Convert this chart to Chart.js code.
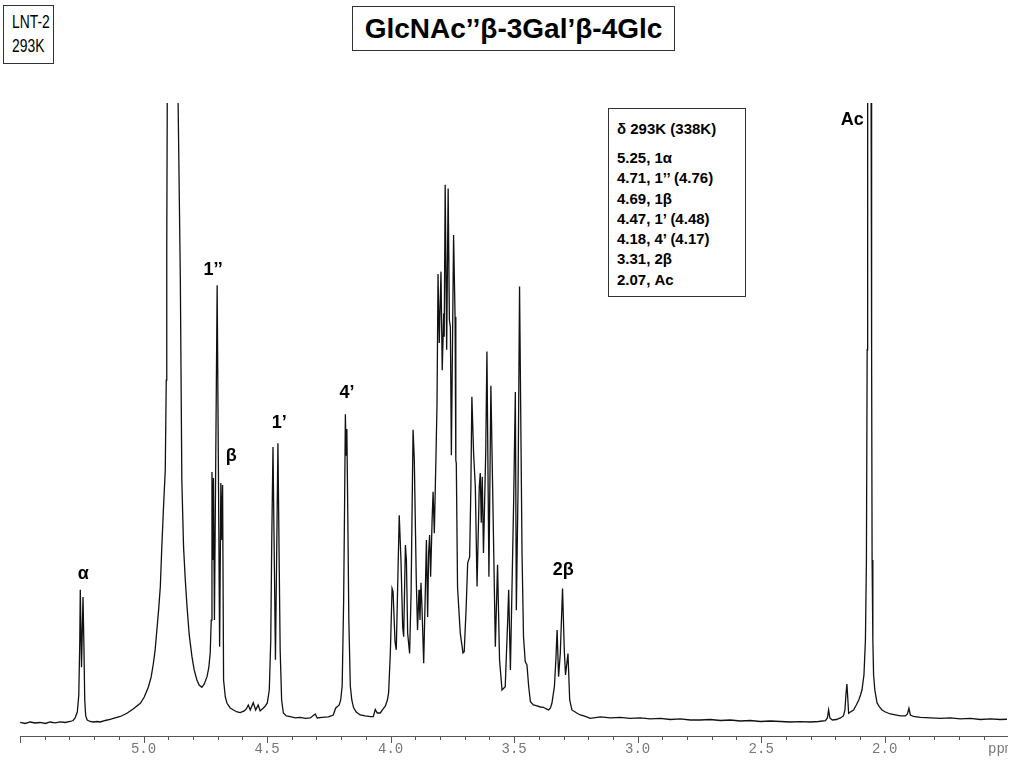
<!DOCTYPE html>
<html><head><meta charset="utf-8">
<script src="https://cdn.jsdelivr.net/npm/chart.js@4.4.0/dist/chart.umd.min.js"></script>
<style>
html,body{margin:0;padding:0;background:#fff;width:1024px;height:768px;overflow:hidden;}
#wrap{position:relative;width:1024px;height:768px;}
canvas{position:absolute;left:0;top:0;}
.box{position:absolute;border:1px solid #333;background:#fff;box-sizing:border-box;font-family:"Liberation Sans",Arial,sans-serif;color:#000;}
#lnt{left:3px;top:5px;width:51px;height:59px;font-size:19px;}
#lnt div{position:absolute;left:8px;white-space:nowrap;transform:scaleX(0.73);transform-origin:left center;line-height:22px;}
#title{left:352px;top:6px;width:323px;height:45px;font-size:28px;font-weight:bold;text-align:center;line-height:43px;white-space:nowrap;}
#dbox{left:608px;top:108px;width:138px;height:189px;font-size:15px;font-weight:bold;}
#dbox .h{position:absolute;left:8px;top:11px;line-height:18px;white-space:nowrap;}
#dbox .l{position:absolute;left:8px;top:39px;line-height:20.3px;white-space:nowrap;}
</style></head><body>
<div id="wrap">
<canvas id="c" width="1024" height="768"></canvas>
<div class="box" id="lnt"><div style="top:5px">LNT-2</div><div style="top:29px">293K</div></div>
<div class="box" id="title">GlcNAc’’β-3Gal’β-4Glc</div>
<div class="box" id="dbox"><div class="h">δ 293K (338K)</div>
<div class="l">5.25, 1α<br>4.71, 1’’ (4.76)<br>4.69, 1β<br>4.47, 1’ (4.48)<br>4.18, 4’ (4.17)<br>3.31, 2β<br>2.07, Ac</div></div>
</div>
<script>
// chemical shift (ppm) of each sampled point of the spectrum
const ppm = [5.499,5.479,5.459,5.439,5.418,5.398,5.378,5.358,5.337,5.317,5.297,5.285,5.277,5.268,5.262,5.258,5.256,5.251,5.245,5.241,5.238,5.234,5.228,5.216,5.204,5.188,5.175,5.155,5.135,5.115,5.094,5.067,5.042,5.013,4.997,4.980,4.969,4.960,4.953,4.946,4.939,4.932,4.926,4.919,4.912,4.908,4.906,4.904,4.882,4.860,
4.851,4.845,4.838,4.831,4.824,4.815,4.804,4.795,4.784,4.775,4.764,4.754,4.743,4.736,4.730,4.726,4.723,4.719,4.717,4.713,4.702,4.692,4.687,4.683,4.680,4.676,4.669,4.662,4.649,4.636,4.621,4.609,4.592,4.584,4.576,4.568,4.556,4.546,4.536,4.528,4.515,4.507,4.499,4.491,4.485,4.481,4.476,4.466,4.456,4.451,
4.447,4.441,4.434,4.422,4.406,4.386,4.366,4.345,4.325,4.305,4.297,4.277,4.252,4.232,4.222,4.216,4.208,4.202,4.196,4.190,4.186,4.183,4.180,4.177,4.173,4.169,4.163,4.157,4.150,4.139,4.123,4.102,4.082,4.070,4.062,4.054,4.042,4.030,4.021,4.013,4.008,4.001,3.994,3.990,3.982,3.977,3.965,3.958,3.951,3.947,
3.940,3.936,3.931,3.923,3.917,3.909,3.904,3.896,3.891,3.885,3.881,3.877,3.873,3.866,3.859,3.855,3.850,3.846,3.842,3.838,3.832,3.828,3.823,3.816,3.812,3.808,3.803,3.796,3.791,3.785,3.783,3.779,3.773,3.767,3.762,3.758,3.754,3.745,3.739,3.736,3.734,3.729,3.718,3.707,3.702,3.694,3.688,3.680,3.675,3.671,
3.664,3.657,3.650,3.641,3.637,3.633,3.629,3.624,3.615,3.610,3.602,3.594,3.587,3.576,3.567,3.559,3.549,3.536,3.526,3.522,3.515,3.502,3.495,3.491,3.484,3.478,3.468,3.462,3.455,3.448,3.441,3.434,3.422,3.407,3.394,3.381,3.370,3.360,3.353,3.347,3.337,3.331,3.326,3.320,3.313,3.304,3.297,3.292,3.282,3.275,
3.266,3.245,3.232,3.212,3.192,3.151,3.111,3.070,3.030,2.989,2.949,2.908,2.868,2.827,2.787,2.746,2.706,2.665,2.625,2.584,2.544,2.503,2.463,2.422,2.382,2.341,2.301,2.268,2.240,2.232,2.227,2.222,2.212,2.196,2.179,2.167,2.161,2.157,2.153,2.149,2.146,2.139,2.126,2.115,2.105,2.098,2.092,2.084,2.078,2.074,
2.071,2.069,2.062,2.055,2.053,2.051,2.048,2.045,2.040,2.031,2.021,2.011,1.997,1.977,1.957,1.936,1.916,1.908,1.902,1.896,1.884,1.855,1.815,1.774,1.734,1.694,1.653,1.613,1.572,1.532,1.505];

// signal intensity (relative, 100 = top of the plot; water and Ac run off-scale)
const intensity = [0.08,-0.08,0.16,0,0.08,-0.08,0.16,0.03,0.19,0.08,0.24,0.40,0.81,1.77,4.5,13.4,21.5,9.0,20.3,11.8,3.7,1.13,0.48,0.24,0.16,0.24,0.16,0.40,0.60,0.81,1.05,1.56,2.26,3.18,4.19,5.85,7.42,9.63,11.8,15.0,18.2,22.0,28.4,34.9,40.8,55.3,76.3,100,160,100,
71.5,39.2,28.4,23.1,18.8,14.2,10.7,8.55,6.94,6.13,5.76,6.29,7.47,8.87,11.3,16.6,40.5,26.3,39.5,16.6,70.6,12.3,38.7,29.5,38.4,6.94,4.19,3.18,2.42,2.10,1.77,1.66,1.94,2.26,2.90,2.10,3.27,2.10,2.90,1.94,2.42,2.74,3.23,5.32,13.4,29.5,44.5,10.2,45.1,26.3,
11.8,3.71,1.61,1.13,1.02,0.81,0.89,0.73,0.81,1.45,0.81,0.89,0.97,1.29,2.42,2.63,2.90,3.71,5.97,19.8,36.0,49.8,43.2,47.4,32.7,16.6,5.97,3.71,2.48,1.77,1.29,1.13,1.03,1.02,2.18,1.61,1.61,2.26,2.74,3.71,4.84,11.3,21.7,21.2,13.1,11.8,33.5,26.3,15.5,13.9,
28.7,26.3,14.5,11.2,21.0,47.3,42.4,23.1,15.0,21.5,16.6,22.6,18.8,9.63,22.0,29.5,17.1,27.4,30.3,23.6,32.7,37.3,30.6,43.5,51.6,72.4,61.3,72.8,56.9,66.1,62.3,86.8,60.2,86.2,65.0,63.9,43.2,78.7,65.5,42.4,41.9,21.9,14.5,11.3,11.5,18.7,25.8,26.8,38.1,52.6,
43.5,38.1,22.0,38.1,40.3,32.3,39.7,27.4,43.5,59.9,23.6,54.4,38.1,12.3,25.5,10.2,5.32,5.85,16.6,21.5,8.55,35.5,53.4,18.2,38.1,70.4,27.4,13.9,9.89,9.35,5.85,3.44,2.90,2.74,2.58,2.53,2.26,2.10,2.42,3.18,5.85,10.2,15.0,7.47,11.3,21.7,11.8,7.74,11.2,3.71,
2.10,1.56,1.29,1.05,0.74,0.97,0.81,0.89,0.73,0.81,0.65,0.73,0.56,0.65,0.48,0.48,0.56,0.40,0.48,0.32,0.40,0.24,0.32,0.24,0.16,0.21,0.16,0.24,0.37,0.81,2.10,0.81,0.48,0.56,0.81,1.13,2.10,4.52,6.29,3.71,1.56,1.77,2.10,2.90,3.71,4.52,5.32,7.74,13.4,26.3,
60.2,100,180,100,60.2,26.3,13.4,7.74,5.32,3.23,2.58,2.10,1.77,1.45,1.29,1.13,1.13,1.45,2.37,1.29,1.05,0.92,0.81,0.73,0.81,0.65,0.73,0.56,0.65,0.56,0.60];

// axis ticks
const tickValues = [5.5,5.4,5.3,5.2,5.1,5.0,4.9,4.8,4.7,4.6,4.5,4.4,4.3,4.2,4.1,4.0,3.9,3.8,3.7,3.6,3.5,3.4,3.3,3.2,3.1,3.0,2.9,2.8,2.7,2.6,2.5,2.4,2.3,2.2,2.1,2.0,1.9,1.8,1.7,1.6];
const majorTicks = [5.0,4.5,4.0,3.5,3.0,2.5,2.0];
const tickLabels = ['5.0','4.5','4.0','3.5','3.0','2.5','2.0'];

// peak assignments
const peakLabels = ['α','1’’','β','1’','4’','2β','Ac'];
const peakLabelPpm = [5.244,4.718,4.645,4.451,4.176,3.301,2.131];
const peakLabelInt = [24.0,73.1,43.1,48.4,53.2,24.7,97.3];

const points = ppm.map((p,i)=>({x:p,y:intensity[i]}));

const deco = {
  id:'deco',
  afterDraw(chart){
    const ctx=chart.ctx, xs=chart.scales.x, ys=chart.scales.y, ca=chart.chartArea;
    ctx.save();
    ctx.strokeStyle='#555'; ctx.lineWidth=1;
    tickValues.forEach(v=>{
      const px=Math.round(xs.getPixelForValue(v))+0.5;
      const major = Math.abs(v*2-Math.round(v*2))<1e-6;
      ctx.beginPath(); ctx.moveTo(px, ca.bottom); ctx.lineTo(px, ca.bottom+(major?7:4)); ctx.stroke();
    });
    ctx.save();
    ctx.beginPath(); ctx.rect(0, ca.bottom+2, ca.right+1, 40); ctx.clip();
    ctx.fillStyle='#777'; ctx.font='14px "Liberation Mono"'; ctx.textBaseline='middle'; ctx.textAlign='left';
    ctx.fillText('ppm', ca.right-19, ca.bottom+13);
    ctx.restore();
    ctx.fillStyle='#000'; ctx.font='bold 18px "Liberation Sans"'; ctx.textAlign='center'; ctx.textBaseline='middle';
    peakLabels.forEach((t,i)=>ctx.fillText(t, xs.getPixelForValue(peakLabelPpm[i]), ys.getPixelForValue(peakLabelInt[i])));
    ctx.restore();
  }
};

new Chart(document.getElementById('c'), {
  type:'line',
  data:{datasets:[{data:points, borderColor:'#111', borderWidth:1.3, pointRadius:0, tension:0, fill:false}]},
  options:{
    responsive:false, animation:false, devicePixelRatio:1,
    layout:{padding:{left:20,right:17,top:103,bottom:0}},
    plugins:{legend:{display:false}, tooltip:{enabled:false}},
    scales:{
      x:{type:'linear', reverse:true, min:1.505, max:5.5,
        afterBuildTicks(scale){ scale.ticks = majorTicks.map(v=>({value:v})); },
        afterFit(scale){ scale.height = 32; },
        ticks:{autoSkip:false, maxRotation:0, padding:5, color:'#777',
          font:{family:'Liberation Mono', size:14},
          callback:(v)=>{ const k=majorTicks.findIndex(m=>Math.abs(m-v)<1e-6); return k>=0?tickLabels[k]:''; }},
        grid:{display:true, drawOnChartArea:false, drawTicks:false},
        border:{display:true, color:'#555', width:1}
      },
      y:{display:false, min:-2.1, max:100}
    }
  },
  plugins:[deco]
});
</script>
</body></html>
